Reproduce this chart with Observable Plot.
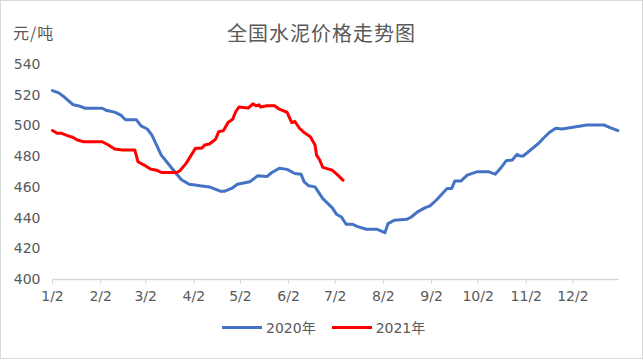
<!DOCTYPE html>
<html>
<head>
<meta charset="utf-8">
<script src="https://cdn.jsdelivr.net/npm/d3@7"></script>
<script src="https://cdn.jsdelivr.net/npm/@observablehq/plot@0.6"></script>
<style>
  body { margin: 0; background: #fff; }
  #wrap { position: relative; width: 643px; height: 359px; box-shadow: inset 0 0 0 1px #d9d9d9; background: #fff; overflow: hidden; font-family: "DejaVu Sans", "Noto Sans CJK SC", sans-serif; color: #595959; }
  #unit { position: absolute; left: 13px; top: 20px; font-size: 16px; letter-spacing: 1px; font-family: "Noto Sans CJK SC", sans-serif; }
  #title { position: absolute; left: 0; width: 643px; top: 18px; text-align: center; font-size: 20px; font-family: "Noto Sans CJK SC", sans-serif; letter-spacing: 1px; }
  #chart { position: absolute; left: 0; top: 48px; }
  #legend { position: absolute; top: 317px; left: 222px; display: flex; align-items: center; font-size: 14px; }
  .sw { display: inline-block; width: 40px; height: 3px; margin-right: 4px; }
  .item { display: flex; align-items: center; margin-right: 16px; }
</style>
</head>
<body>
<div id="wrap">
  <div id="unit">元/吨</div>
  <div id="title">全国水泥价格走势图</div>
  <div id="chart"></div>
  <div id="legend"></div>
</div>
<script>
const seriesNames = ["2020年", "2021年"];
const seriesColors = ["#4472C4", "#FF0000"];
const tickLabels = ["1/2","2/2","3/2","4/2","5/2","6/2","7/2","8/2","9/2","10/2","11/2","12/2"];
const yTicks = [400, 420, 440, 460, 480, 500, 520, 540];

// 2020 series (month-day, price)
const dates2020 = ["01-02","01-06","01-10","01-15","01-19","01-23","02-03","02-06","02-11","02-15","02-18","02-25","02-28","03-03","03-06","03-09","03-12","03-16","03-20","03-25","03-30","04-06","04-12","04-19","04-22","04-27","04-30","05-08","05-13","05-19","05-22","05-27","06-01","06-06","06-10","06-12","06-15","06-19","06-24","06-30","07-03","07-06","07-09","07-13","07-16","07-22","07-29","08-03","08-05","08-09","08-17","08-20","08-24","08-29","09-01","09-05","09-08","09-12","09-15","09-17","09-21","09-25","10-01","10-09","10-13","10-16","10-20","10-24","10-27","10-29","10-31","11-06","11-10","11-13","11-17","11-21","11-25","12-02","12-11","12-22","12-26","12-31"];
const values2020 = [523,521.5,518.5,514,513,511.5,511.5,510,509,507,504,504,500,498,494,487.5,481,476,471,465,462,461,460.3,457.5,457.5,459.7,462,463.6,467.5,467,469.5,472.4,471.7,469,468.6,463.6,461,460.3,452.7,446.8,442.3,440.7,436,436,434.6,432.7,432.7,430.5,436.4,438.6,439.2,440.7,444,446.8,447.9,451.6,454.9,459.3,459.3,464.2,464.2,468,470.1,470.1,468.6,471.9,477.3,477.8,481.5,480.4,480.4,485.4,488.7,492,495.9,498.5,498,499.1,500.6,500.6,498.9,497];

// 2021 series (month-day, price)
const dates2021 = ["01-02","01-05","01-08","01-12","01-15","01-18","01-22","02-03","02-07","02-11","02-16","02-24","02-26","03-01","03-05","03-09","03-12","03-22","03-24","03-28","04-03","04-07","04-09","04-12","04-16","04-18","04-21","04-24","04-27","04-29","05-01","05-07","05-10","05-12","05-14","05-15","05-19","05-24","05-27","06-01","06-04","06-06","06-09","06-12","06-16","06-19","06-20","06-22","06-24","06-30","07-03","07-07"];
const values2021 = [497,495.2,495.2,493.5,492.6,490.8,489.7,489.7,487.6,485,484.3,484.3,476.7,474.5,471.9,471.2,469.7,469.7,470.8,475.6,485.4,485.4,487.6,488.2,491.3,496.3,496.9,502.2,504.4,509.4,512.3,511.6,514.4,513.1,513.7,512.3,513.1,513.1,510.9,508.9,502.2,502.9,498.5,495.7,493,487.6,481,477.8,473,471.2,468.6,464.7];

// both years drawn on a common Jan 2 → Jan 1 calendar axis
const toDate = md => { const [m, d] = md.split("-").map(Number); return new Date(Date.UTC(2020, m - 1, d)); };
const data = [
  ...dates2020.map((d, i) => ({date: toDate(d), value: values2020[i], series: seriesNames[0]})),
  ...dates2021.map((d, i) => ({date: toDate(d), value: values2021[i], series: seriesNames[1]}))
];
const tickDates = tickLabels.map(l => { const [m, d] = l.split("/").map(Number); return new Date(Date.UTC(2020, m - 1, d)); });

const chart = Plot.plot({
  width: 643,
  height: 262,
  marginTop: 16,
  marginBottom: 31,
  marginLeft: 52,
  marginRight: 24,
  style: {fontFamily: "'DejaVu Sans', 'Noto Sans CJK SC', sans-serif", fontSize: "14px", color: "#595959", background: "transparent"},
  x: {type: "utc", domain: [new Date(Date.UTC(2020, 0, 2)), new Date(Date.UTC(2021, 0, 1))]},
  y: {domain: [400, 540]},
  color: {domain: seriesNames, range: seriesColors},
  marks: [
    Plot.axisY({ticks: yTicks, tickSize: 0, tickPadding: 12, label: null}),
    Plot.axisX({ticks: tickDates, tickFormat: (d, i) => tickLabels[i], tickSize: 5, tickPadding: 7, stroke: "#d9d9d9", strokeOpacity: 1, label: null}),
    Plot.ruleY([400], {stroke: "#d9d9d9", strokeWidth: 1.5}),
    Plot.lineY(data, {x: "date", y: "value", stroke: "series", strokeWidth: 3, curve: "linear"})
  ]
});
document.getElementById("chart").appendChild(chart);

const legend = document.getElementById("legend");
seriesNames.forEach((name, i) => {
  const item = document.createElement("div");
  item.className = "item";
  item.innerHTML = `<span class="sw" style="background:${seriesColors[i]}"></span><span>${name}</span>`;
  legend.appendChild(item);
});
</script>
</body>
</html>
